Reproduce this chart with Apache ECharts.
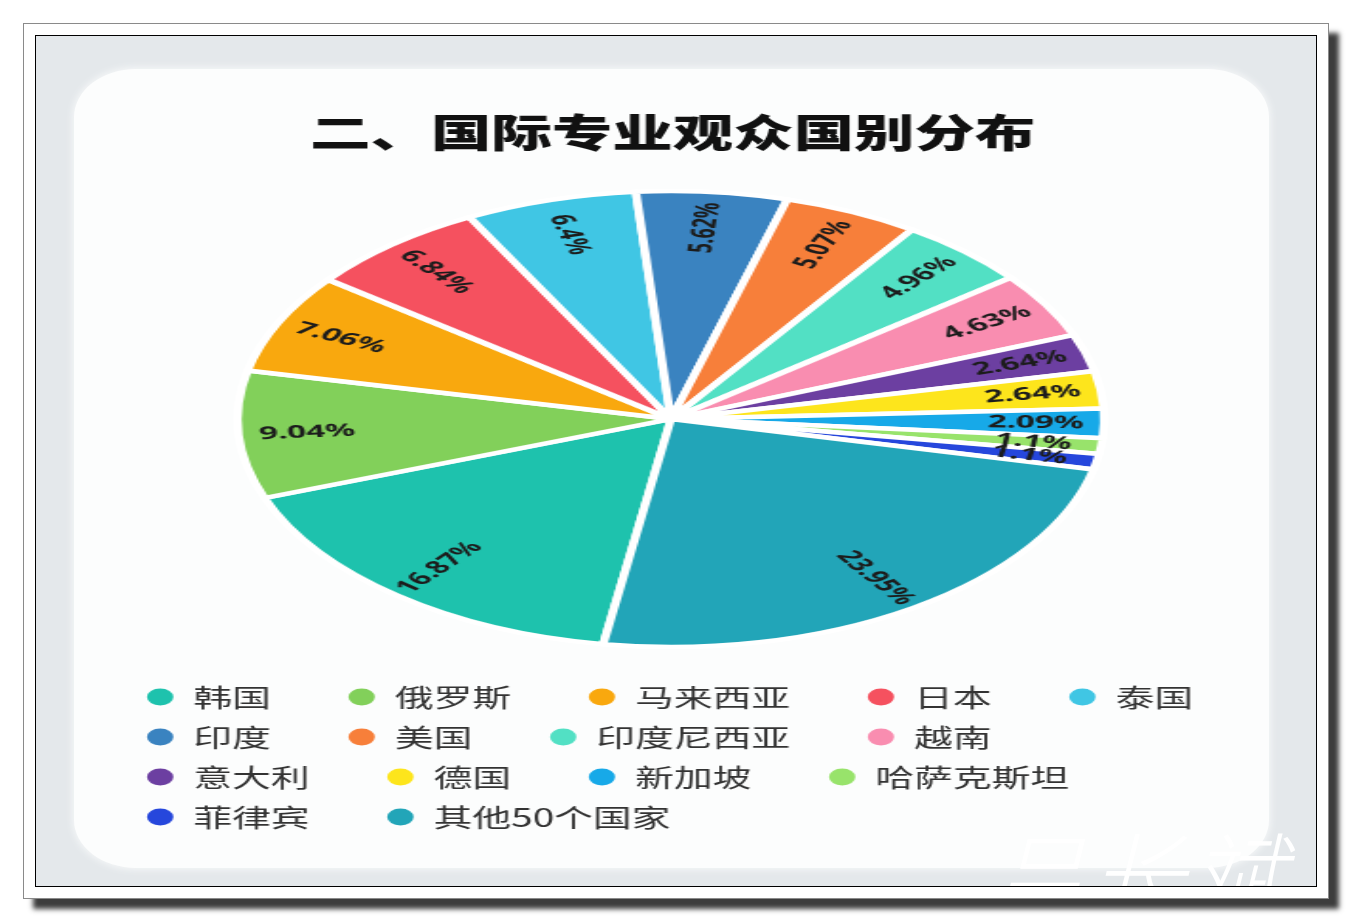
<!DOCTYPE html>
<html>
<head>
<meta charset="utf-8">
<script src="https://cdn.jsdelivr.net/npm/echarts@6/dist/echarts.min.js"></script>
<style>
  html, body { margin: 0; padding: 0; width: 1352px; height: 922px; background: #ffffff; overflow: hidden; }
  #outer { position: absolute; left: 23px; top: 23px; width: 1304px; height: 874px; border: 1px solid #8a8a8a; background: #ffffff; box-shadow: 10px 10px 5px #3c3c3c; }
  #inner { position: absolute; left: 35px; top: 35px; width: 1280px; height: 850px; border: 1.5px solid #000; background: #e4e8eb; overflow: hidden; }
  #card { position: absolute; left: 38px; top: 33px; width: 1195px; height: 799px; background: #fcfdfd; border-radius: 62px / 48px; box-shadow: 0 0 6px 2px #f4f6f7; }
  #wm { position: absolute; left: 955px; top: 788px; font-family: "Noto Sans CJK SC"; font-weight: 300; font-size: 94px; line-height: 1; color: #ffffff; letter-spacing: 6px; font-style: italic; white-space: nowrap; }
  #chartA { position: absolute; left: 0; top: 0; height: 922px; transform-origin: 0 0; }
  #chartB { position: absolute; left: 0; top: 0; height: 922px; transform-origin: 0 0; }
</style>
</head>
<body>
<div id="outer"></div>
<div id="inner"><div id="card"></div><span id="wm">吕长斌</span></div>
<div id="chartA"></div>
<div id="chartB"></div>
<script>
// ---- data ----
const titleText = '二、国际专业观众国别分布';
const countries = ['韩国', '俄罗斯', '马来西亚', '日本', '泰国', '印度', '美国', '印度尼西亚', '越南', '意大利', '德国', '新加坡', '哈萨克斯坦', '菲律宾', '其他50个国家'];
const shares = [16.87, 9.04, 7.06, 6.84, 6.4, 5.62, 5.07, 4.96, 4.63, 2.64, 2.64, 2.09, 1.1, 1.1, 23.95];
const colors = ['#1ec2ad', '#82d05a', '#f9a80e', '#f5515f', '#40c6e4', '#3a83c0', '#f77f3a', '#52e0c4', '#f98db0', '#6c3fa1', '#fde51c', '#17a9e8', '#98e36b', '#2647dc', '#22a5b8'];

// ---- layout (the reference image is horizontally stretched) ----
const W = 1352;
const sA = 1.55;   // stretch of title + legend
const sB = 1.9;    // stretch of the pie
const elA = document.getElementById('chartA');
const elB = document.getElementById('chartB');
elA.style.width = (W / sA) + 'px';
elA.style.transform = 'scaleX(' + sA + ')';
elB.style.width = (W / sB) + 'px';
elB.style.transform = 'scaleX(' + sB + ')';

const pieData = countries.map((n, i) => ({ name: n, value: shares[i], itemStyle: { color: colors[i] } }));

// ---- title + legend ----
const chartA = echarts.init(elA, null, { renderer: 'canvas' });
chartA.setOption({
  animation: false,
  title: {
    text: titleText,
    left: 665 / sA,
    textAlign: 'center',
    top: 108,
    textStyle: { fontFamily: 'Noto Sans CJK SC', fontWeight: 900, fontSize: 39, color: '#111111' }
  },
  legend: {
    left: 147 / sA,
    top: 684,
    width: 728,
    padding: 0,
    itemGap: 14,
    itemWidth: 17,
    itemHeight: 17,
    icon: 'circle',
    data: countries,
    textStyle: { fontFamily: 'Noto Sans CJK SC', fontSize: 25, lineHeight: 26, color: '#333333', padding: [0, 36, 0, 8] }
  },
  series: [{
    type: 'pie',
    center: [-200, -200],
    radius: [0, 1],
    silent: true,
    label: { show: false },
    labelLine: { show: false },
    data: pieData
  }]
});

// ---- pie ----
const chartB = echarts.init(elB, null, { renderer: 'canvas' });
const cx = 671 / sB, cy = 419;
chartB.setOption({
  animation: false,
  series: [
    {
      type: 'pie',
      center: [cx, cy],
      radius: [0, 228],
      startAngle: 261,
      clockwise: true,
      silent: true,
      itemStyle: { borderColor: '#ffffff', borderWidth: 4.5 },
      label: { show: false },
      labelLine: { show: false },
      data: pieData
    },
    {
      type: 'pie',
      center: [cx, cy],
      radius: [150, 228],
      startAngle: 261,
      clockwise: true,
      silent: true,
      avoidLabelOverlap: false,
      labelLayout: { hideOverlap: false },
      itemStyle: { color: 'rgba(0,0,0,0)', borderWidth: 0 },
      label: {
        show: true,
        position: 'inside',
        rotate: 'radial',
        formatter: '{c}%',
        fontFamily: 'Noto Sans',
        fontWeight: 'bold',
        fontSize: 17.5,
        color: '#1c1c1c'
      },
      labelLine: { show: false },
      data: countries.map((n, i) => ({ name: n, value: shares[i] }))
    }
  ]
});
</script>
</body>
</html>
